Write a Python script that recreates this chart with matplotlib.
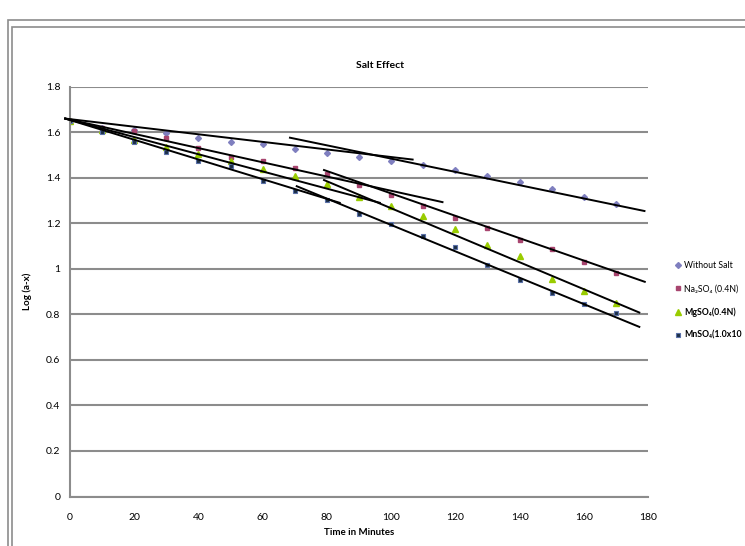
import matplotlib
matplotlib.use("Agg")
import matplotlib.pyplot as plt
from matplotlib.patches import Rectangle

plt.rcParams['font.family'] = ['Lato', 'DejaVu Sans']

# readings
minutes = [0, 10, 20, 30, 40, 50, 60, 70, 80, 90, 100, 110, 120, 130, 140, 150, 160, 170]
without_salt = [1.65, 1.62, 1.61, 1.596, 1.576, 1.556, 1.547, 1.528, 1.508, 1.492,
                1.475, 1.457, 1.435, 1.409, 1.382, 1.352, 1.317, 1.286]
na2so4 = [1.65, 1.62, 1.605, 1.573, 1.532, 1.492, 1.472, 1.443, 1.418, 1.370,
          1.326, 1.278, 1.225, 1.178, 1.126, 1.087, 1.029, 0.981]
mgso4 = [1.65, 1.61, 1.568, 1.534, 1.506, 1.474, 1.440, 1.408, 1.374, 1.315,
         1.274, 1.232, 1.173, 1.105, 1.058, 0.955, 0.902, 0.852]
mnso4 = [1.65, 1.602, 1.555, 1.514, 1.474, 1.452, 1.386, 1.342, 1.303, 1.240,
         1.195, 1.146, 1.096, 1.017, 0.952, 0.896, 0.845, 0.805]

# hand drawn straight lines: (t0, t1), (v0, v1)
fit_lines = [
    ((-1.5, 106.7), (1.66, 1.480)),
    ((68.5, 178.9), (1.576, 1.254)),
    ((-1.5, 116.0), (1.66, 1.293)),
    ((79.1, 179.0), (1.434, 0.943)),
    ((-1.5, 96.5), (1.66, 1.290)),
    ((79.1, 177.3), (1.390, 0.808)),
    ((-1.5, 84.0), (1.66, 1.290)),
    ((70.6, 177.3), (1.363, 0.745)),
]

# last label is cut by the chart edge in the original
labels = ['Without Salt', 'Na\u2082SO\u2084 (0.4N)', 'MgSO\u2084(0.4N)', 'MnSO\u2084(1.0x10']

W, H = 745, 546
fig = plt.figure(figsize=(W / 100, H / 100), dpi=100)
ax = fig.add_axes([70 / W, (H - 496.5) / H, 578 / W, 409.8 / H])

# double frame around the chart
for x0, y0 in [(8, 20), (12, 27)]:
    fig.patches.append(Rectangle((x0 / W, -0.1), 1.2, 1 - y0 / H + 0.1, transform=fig.transFigure,
                                 fill=False, edgecolor='#8c8c8c', linewidth=1.2))

ax.plot(minutes, without_salt, 'D', ms=3.0, color='#7f7fbf', label=labels[0], zorder=2)
ax.plot(minutes, na2so4, 's', ms=3.3, color='#a8456f', label=labels[1], zorder=2)
ax.plot(minutes, mgso4, '^', ms=4.0, color='#99cc00', label=labels[2], zorder=2)
ax.plot(minutes, mnso4, 's', ms=3.4, color='#1c2f45', markeredgecolor='#5a70a8',
        markeredgewidth=0.8, label=labels[3], zorder=2)

for (tx, vy) in fit_lines:
    ax.plot(tx, vy, color='black', lw=1.4, zorder=3, clip_on=False)

ax.set_xlim(0, 180)
ax.set_ylim(0, 1.8)
ax.set_xticks(range(0, 181, 20))
ax.set_yticks([0, 0.2, 0.4, 0.6, 0.8, 1, 1.2, 1.4, 1.6, 1.8])
ax.set_yticklabels(['0', '0.2', '0.4', '0.6', '0.8', '1', '1.2', '1.4', '1.6', '1.8'])
ax.grid(axis='y', color='#8c8c8c', lw=1.5)
ax.set_axisbelow(True)
for s in ['top', 'right']:
    ax.spines[s].set_visible(False)
for s in ['left', 'bottom']:
    ax.spines[s].set_color('#8c8c8c')
    ax.spines[s].set_linewidth(1.5)
ax.tick_params(length=0, labelsize=7.5, colors='black')
ax.tick_params(axis='y', pad=7)
ax.tick_params(axis='x', pad=12)

ax.set_xlabel('Time in Minutes', fontsize=7, fontweight='bold', labelpad=4)
ax.set_ylabel('Log (a-x)', fontsize=7, fontweight='bold', labelpad=10)
fig.text(380 / W, 1 - 65 / H, 'Salt Effect', fontsize=7.5, fontweight='bold',
         ha='center', va='center')

leg = ax.legend(loc='center left', bbox_to_anchor=(1.04, 0.478), frameon=False,
                fontsize=6.3, handlelength=0.8, handletextpad=0.3, labelspacing=1.6,
                borderaxespad=0)
for i, t in enumerate(leg.get_texts()):
    if i >= 2:
        t.set_fontweight('bold')

fig.savefig('out.png', dpi=100)
